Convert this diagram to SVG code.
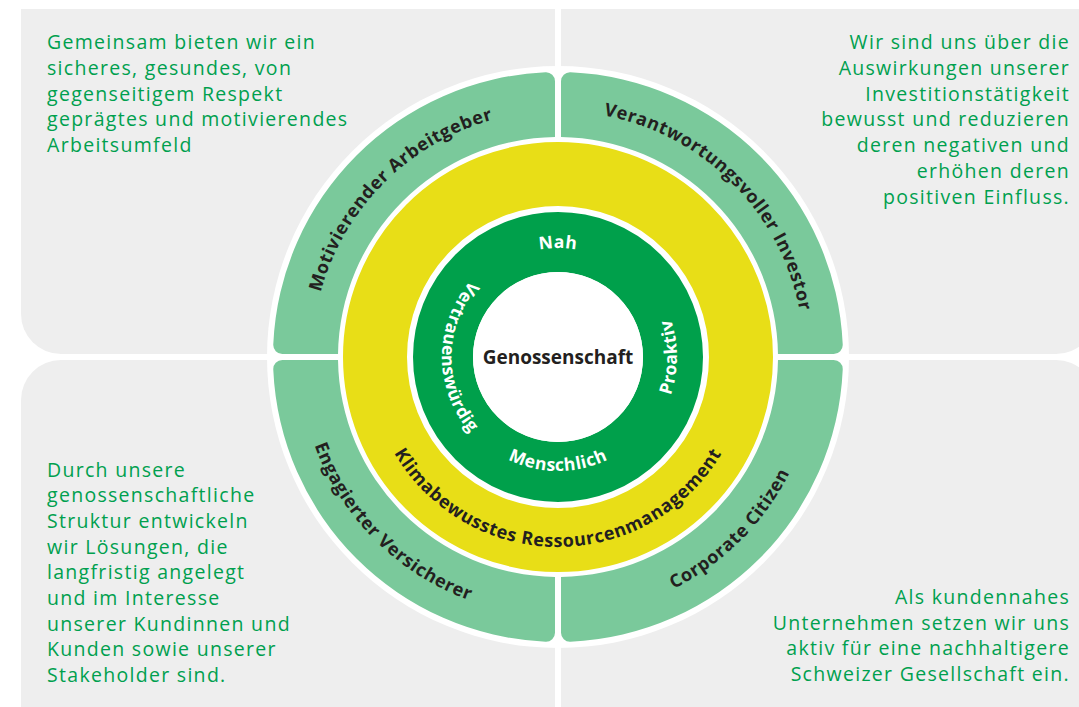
<svg xmlns="http://www.w3.org/2000/svg" width="1079" height="707" viewBox="0 0 1079 707">
<style>
.panel{fill:#EEEEEE}
.seg{fill:#7AC99B}
.body{font-family:"Open Sans","Liberation Sans",sans-serif;font-size:19.5px;letter-spacing:1.3px;fill:#00A04E}
.lbl{font-family:"Open Sans","Liberation Sans",sans-serif;font-weight:700;font-size:18px;letter-spacing:0.6px;fill:#231F20}
.wl{font-family:"Open Sans","Liberation Sans",sans-serif;font-weight:700;font-size:17.5px;letter-spacing:0.5px;fill:#FFFFFF}
.ctr{font-family:"Open Sans","Liberation Sans",sans-serif;font-weight:700;font-size:19px;fill:#231F20}
</style>
<defs>
<path id="pTL" d="M312,357 A246,246 0 0 1 558,111"/>
<path id="pTR" d="M558,111 A246,246 0 0 1 804,357"/>
<path id="pBR" d="M558,616 A259,259 0 0 0 817,357"/>
<path id="pBL" d="M299,357 A259,259 0 0 0 558,616"/>
<path id="pY" d="M368,357 A190,190 0 0 0 748,357"/>
<path id="pNah" d="M449,357 A109,109 0 0 1 667,357"/>
<path id="pPro" d="M558,476 A119,119 0 0 0 558,238"/>
<path id="pMen" d="M444,357 A114,114 0 0 0 672,357"/>
<path id="pVer" d="M558,241 A116,116 0 0 0 558,473"/>
</defs>
<rect width="1079" height="707" fill="#FFFFFF"/>
<g id="panels">
<path class="panel" d="M21,9 H555 V354 H61 A40,40 0 0 1 21,314 Z"/>
<path class="panel" d="M561,9 H1096 V314 A40,40 0 0 1 1056,354 H561 Z"/>
<path class="panel" d="M61,360 H555 V720 H21 V400 A40,40 0 0 1 61,360 Z"/>
<path class="panel" d="M561,360 H1056 A40,40 0 0 1 1096,400 V720 H561 Z"/>
<circle cx="558" cy="357" r="291" fill="#FFFFFF"/>
</g>
<g id="node-motivierender-arbeitgeber">
<path class="seg" d="M555,137.02 L555,81.26 A9,9 0 0 0 545.61,72.27 A285,285 0 0 0 273.27,344.61 A9,9 0 0 0 282.26,354 L338.02,354 A220,220 0 0 1 555,137.02 Z"/>
<text class="lbl"><textPath href="#pTL" startOffset="50%" text-anchor="middle">Motivierender Arbeitgeber</textPath></text>
</g>
<g id="node-verantwortungsvoller-investor">
<path class="seg" d="M561,137.02 L561,81.26 A9,9 0 0 1 570.39,72.27 A285,285 0 0 1 842.73,344.61 A9,9 0 0 1 833.74,354 L777.98,354 A220,220 0 0 0 561,137.02 Z"/>
<text class="lbl"><textPath href="#pTR" startOffset="50%" text-anchor="middle">Verantwortungsvoller Investor</textPath></text>
</g>
<g id="node-corporate-citizen">
<path class="seg" d="M561,576.98 L561,632.74 A9,9 0 0 0 570.39,641.73 A285,285 0 0 0 842.73,369.39 A9,9 0 0 0 833.74,360 L777.98,360 A220,220 0 0 1 561,576.98 Z"/>
<text class="lbl"><textPath href="#pBR" startOffset="50%" text-anchor="middle">Corporate Citizen</textPath></text>
</g>
<g id="node-engagierter-versicherer">
<path class="seg" d="M555,576.98 L555,632.74 A9,9 0 0 1 545.61,641.73 A285,285 0 0 1 273.27,369.39 A9,9 0 0 1 282.26,360 L338.02,360 A220,220 0 0 0 555,576.98 Z"/>
<text class="lbl"><textPath href="#pBL" startOffset="50%" text-anchor="middle">Engagierter Versicherer</textPath></text>
</g>
<g id="node-klimabewusstes-ressourcenmanagement">
<circle cx="558" cy="357" r="183" fill="none" stroke="#E8DE17" stroke-width="64"/>
<text class="lbl"><textPath href="#pY" startOffset="50%" text-anchor="middle">Klimabewusstes Ressourcenmanagement</textPath></text>
</g>
<g id="node-werte">
<circle cx="558" cy="357" r="115" fill="none" stroke="#00A04B" stroke-width="60"/>
<text class="wl"><textPath href="#pNah" startOffset="50%" text-anchor="middle">Nah</textPath></text>
<text class="wl"><textPath href="#pPro" startOffset="50%" text-anchor="middle">Proaktiv</textPath></text>
<text class="wl"><textPath href="#pMen" startOffset="50%" text-anchor="middle">Menschlich</textPath></text>
<text class="wl"><textPath href="#pVer" startOffset="50%" text-anchor="middle">Vertrauenswürdig</textPath></text>
</g>
<g id="node-genossenschaft">
<circle cx="558" cy="357" r="85" fill="#FFFFFF"/>
<text class="ctr" x="558" y="364" text-anchor="middle">Genossenschaft</text>
</g>
<g id="text-top-left" class="body">
<text x="47" y="49">Gemeinsam bieten wir ein</text>
<text x="47" y="74.8">sicheres, gesundes, von</text>
<text x="47" y="100.6">gegenseitigem Respekt</text>
<text x="47" y="126.4">geprägtes und motivierendes</text>
<text x="47" y="152.2">Arbeitsumfeld</text>
</g>
<g id="text-top-right" class="body" text-anchor="end">
<text x="1070" y="49">Wir sind uns über die</text>
<text x="1070" y="74.8">Auswirkungen unserer</text>
<text x="1070" y="100.6">Investitionstätigkeit</text>
<text x="1070" y="126.4">bewusst und reduzieren</text>
<text x="1070" y="152.2">deren negativen und</text>
<text x="1070" y="178">erhöhen deren</text>
<text x="1070" y="203.8">positiven Einfluss.</text>
</g>
<g id="text-bottom-left" class="body">
<text x="47" y="476.5">Durch unsere</text>
<text x="47" y="502.2">genossenschaftliche</text>
<text x="47" y="527.9">Struktur entwickeln</text>
<text x="47" y="553.6">wir Lösungen, die</text>
<text x="47" y="579.3">langfristig angelegt</text>
<text x="47" y="605">und im Interesse</text>
<text x="47" y="630.7">unserer Kundinnen und</text>
<text x="47" y="656.4">Kunden sowie unserer</text>
<text x="47" y="682.1">Stakeholder sind.</text>
</g>
<g id="text-bottom-right" class="body" text-anchor="end">
<text x="1070" y="604">Als kundennahes</text>
<text x="1070" y="629.7">Unternehmen setzen wir uns</text>
<text x="1070" y="655.4">aktiv für eine nachhaltigere</text>
<text x="1070" y="681.1">Schweizer Gesellschaft ein.</text>
</g>
<g id="connectors"/>
</svg>
